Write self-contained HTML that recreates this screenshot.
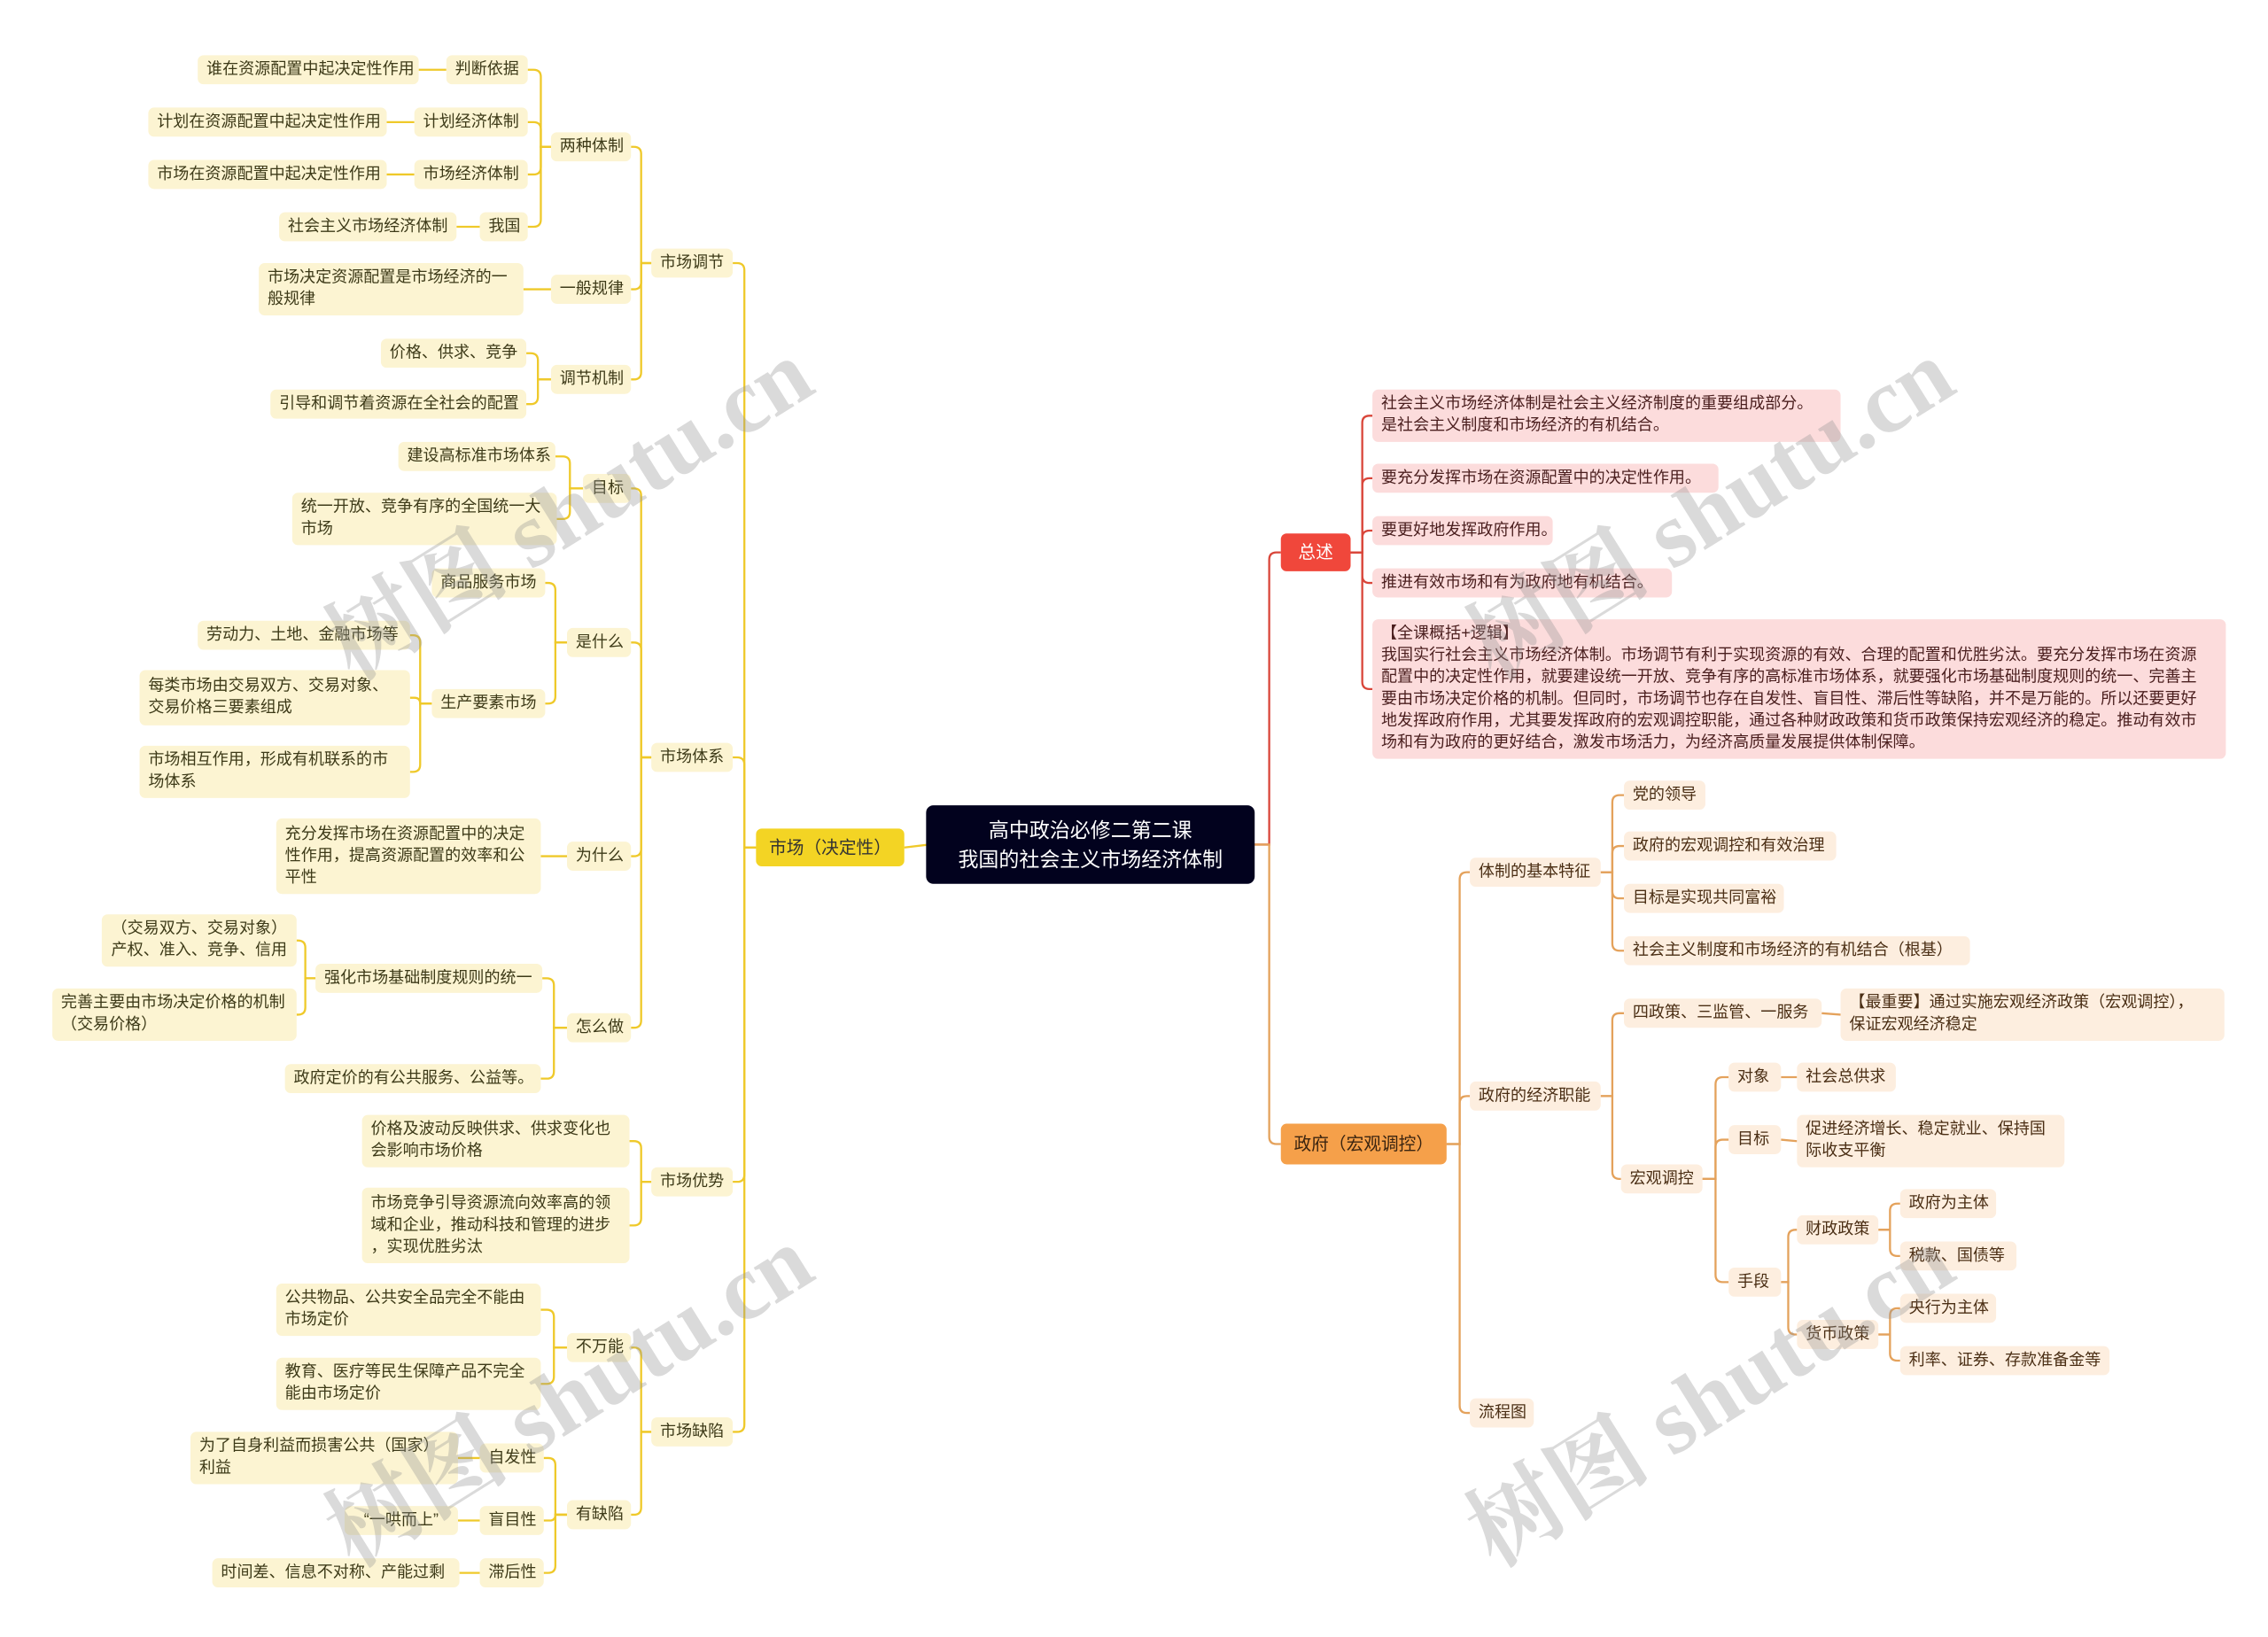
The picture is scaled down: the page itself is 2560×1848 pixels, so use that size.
<!DOCTYPE html>
<html><head><meta charset="utf-8">
<style>
html,body{margin:0;padding:0;background:#fff;}
body{width:2560px;height:1847px;overflow:hidden;position:relative;}
#w{position:absolute;left:0;top:0;width:1560px;height:1126px;transform:scale(1.64103);transform-origin:0 0;font-family:"Liberation Sans","Noto Sans CJK SC",sans-serif;}
.n{position:absolute;box-sizing:border-box;font-size:11px;line-height:15px;padding:0 6px;display:flex;align-items:center;border-radius:4px;white-space:nowrap;}
.y{background:#fcf4d2;color:#3d3a18;}
.p{background:#fcdcdc;color:#4a1e1e;}
.o{background:#fdeedf;color:#4a2e14;}
.wrap{white-space:normal;}
.wm{position:absolute;font-size:64px;color:rgba(150,150,150,0.35);font-family:"Liberation Serif","Noto Serif CJK SC",serif;transform:rotate(-32deg);white-space:nowrap;font-weight:bold;}
svg{position:absolute;left:0;top:0;}
</style></head><body><div id="w">
<svg id="s" width="1560" height="1126"></svg>

<div class="n y" style="left:136px;top:38px;width:152px;height:20px">谁在资源配置中起决定性作用</div>
<div class="n y" style="left:307px;top:38px;width:56px;height:20px">判断依据</div>
<div class="n y" style="left:102px;top:74px;width:164px;height:20px">计划在资源配置中起决定性作用</div>
<div class="n y" style="left:285px;top:74px;width:78px;height:20px">计划经济体制</div>
<div class="n y" style="left:102px;top:110px;width:164px;height:20px">市场在资源配置中起决定性作用</div>
<div class="n y" style="left:285px;top:110px;width:78px;height:20px">市场经济体制</div>
<div class="n y" style="left:192px;top:146px;width:122px;height:20px">社会主义市场经济体制</div>
<div class="n y" style="left:330px;top:146px;width:33px;height:20px">我国</div>
<div class="n y" style="left:379px;top:91px;width:55px;height:20px">两种体制</div>
<div class="n y wrap" style="left:178px;top:181px;width:182px;height:36px">市场决定资源配置是市场经济的一般规律</div>
<div class="n y" style="left:379px;top:189px;width:55px;height:20px">一般规律</div>
<div class="n y" style="left:262px;top:233px;width:100px;height:20px">价格、供求、竞争</div>
<div class="n y" style="left:186px;top:268px;width:176px;height:20px">引导和调节着资源在全社会的配置</div>
<div class="n y" style="left:379px;top:251px;width:55px;height:20px">调节机制</div>
<div class="n y" style="left:448px;top:171px;width:56px;height:20px">市场调节</div>
<div class="n y" style="left:274px;top:304px;width:108px;height:20px">建设高标准市场体系</div>
<div class="n y wrap" style="left:201px;top:339px;width:182px;height:36px">统一开放、竞争有序的全国统一大市场</div>
<div class="n y" style="left:401px;top:326px;width:33px;height:20px">目标</div>
<div class="n y" style="left:297px;top:391px;width:78px;height:20px">商品服务市场</div>
<div class="n y" style="left:136px;top:427px;width:146px;height:20px">劳动力、土地、金融市场等</div>
<div class="n y wrap" style="left:96px;top:461px;width:186px;height:38px">每类市场由交易双方、交易对象、交易价格三要素组成</div>
<div class="n y wrap" style="left:96px;top:513px;width:186px;height:36px">市场相互作用，形成有机联系的市场体系</div>
<div class="n y" style="left:297px;top:474px;width:78px;height:20px">生产要素市场</div>
<div class="n y" style="left:390px;top:432px;width:44px;height:20px">是什么</div>
<div class="n y" style="left:448px;top:511px;width:56px;height:20px">市场体系</div>
<div class="n y wrap" style="left:190px;top:563px;width:182px;height:52px">充分发挥市场在资源配置中的决定性作用，提高资源配置的效率和公平性</div>
<div class="n y" style="left:390px;top:579px;width:44px;height:20px">为什么</div>
<div class="n y wrap" style="left:70px;top:629px;width:134px;height:36px;justify-content:center;text-align:center">（交易双方、交易对象）产权、准入、竞争、信用</div>
<div class="n y wrap" style="left:36px;top:680px;width:168px;height:36px">完善主要由市场决定价格的机制（交易价格）</div>
<div class="n y" style="left:217px;top:663px;width:156px;height:20px">强化市场基础制度规则的统一</div>
<div class="n y" style="left:196px;top:732px;width:176px;height:20px">政府定价的有公共服务、公益等。</div>
<div class="n y" style="left:390px;top:697px;width:44px;height:20px">怎么做</div>
<div class="n y wrap" style="left:249px;top:767px;width:184px;height:36px">价格及波动反映供求、供求变化也会影响市场价格</div>
<div class="n y" style="left:249px;top:817px;width:184px;height:52px">市场竞争引导资源流向效率高的领<br>域和企业，推动科技和管理的进步<br>，实现优胜劣汰</div>
<div class="n y" style="left:448px;top:803px;width:56px;height:20px">市场优势</div>
<div class="n y wrap" style="left:190px;top:883px;width:182px;height:36px">公共物品、公共安全品完全不能由市场定价</div>
<div class="n y wrap" style="left:190px;top:934px;width:182px;height:36px">教育、医疗等民生保障产品不完全能由市场定价</div>
<div class="n y" style="left:390px;top:917px;width:44px;height:20px">不万能</div>
<div class="n y wrap" style="left:131px;top:985px;width:184px;height:36px">为了自身利益而损害公共（国家）利益</div>
<div class="n y" style="left:330px;top:993px;width:44px;height:20px">自发性</div>
<div class="n y" style="left:237px;top:1036px;width:78px;height:20px;justify-content:center">“一哄而上”</div>
<div class="n y" style="left:330px;top:1036px;width:44px;height:20px">盲目性</div>
<div class="n y" style="left:146px;top:1072px;width:170px;height:20px">时间差、信息不对称、产能过剩</div>
<div class="n y" style="left:330px;top:1072px;width:44px;height:20px">滞后性</div>
<div class="n y" style="left:390px;top:1032px;width:44px;height:20px">有缺陷</div>
<div class="n y" style="left:448px;top:975px;width:56px;height:20px">市场缺陷</div>
<div class="n" style="left:520px;top:570px;width:102px;height:26px;background:#f3d424;color:#333;justify-content:center;font-size:12px">市场（决定性）</div>
<div class="n" style="left:637px;top:554px;width:226px;height:54px;background:#02021e;color:#fff;justify-content:center;text-align:center;font-size:14px;line-height:20px;white-space:normal;border-radius:5px">高中政治必修二第二课<br>我国的社会主义市场经济体制</div>

<div class="n" style="left:881px;top:367px;width:48px;height:26px;background:#f0473b;color:#fff;justify-content:center;font-size:12px">总述</div>
<div class="n p wrap" style="left:944px;top:268px;width:322px;height:36px">社会主义市场经济体制是社会主义经济制度的重要组成部分。<br>是社会主义制度和市场经济的有机结合。</div>
<div class="n p" style="left:944px;top:319px;width:238px;height:20px">要充分发挥市场在资源配置中的决定性作用。</div>
<div class="n p" style="left:944px;top:355px;width:124px;height:20px">要更好地发挥政府作用。</div>
<div class="n p" style="left:944px;top:391px;width:206px;height:20px">推进有效市场和有为政府地有机结合。</div>
<div class="n p" style="left:944px;top:426px;width:587px;height:96px;align-items:flex-start;padding-top:3px;overflow:hidden">【全课概括+逻辑】<br>我国实行社会主义市场经济体制。市场调节有利于实现资源的有效、合理的配置和优胜劣汰。要充分发挥市场在资源<br>配置中的决定性作用，就要建设统一开放、竞争有序的高标准市场体系，就要强化市场基础制度规则的统一、完善主<br>要由市场决定价格的机制。但同时，市场调节也存在自发性、盲目性、滞后性等缺陷，并不是万能的。所以还要更好<br>地发挥政府作用，尤其要发挥政府的宏观调控职能，通过各种财政政策和货币政策保持宏观经济的稳定。推动有效市<br>场和有为政府的更好结合，激发市场活力，为经济高质量发展提供体制保障。</div>

<div class="n" style="left:881px;top:773px;width:114px;height:28px;background:#f5a04a;color:#3a2410;justify-content:center;font-size:12px">政府（宏观调控）</div>
<div class="n o" style="left:1011px;top:590px;width:90px;height:20px">体制的基本特征</div>
<div class="n o" style="left:1117px;top:537px;width:56px;height:20px">党的领导</div>
<div class="n o" style="left:1117px;top:572px;width:146px;height:20px">政府的宏观调控和有效治理</div>
<div class="n o" style="left:1117px;top:608px;width:110px;height:20px">目标是实现共同富裕</div>
<div class="n o" style="left:1117px;top:644px;width:238px;height:20px">社会主义制度和市场经济的有机结合（根基）</div>
<div class="n o" style="left:1011px;top:744px;width:90px;height:20px">政府的经济职能</div>
<div class="n o" style="left:1117px;top:687px;width:136px;height:20px">四政策、三监管、一服务</div>
<div class="n o" style="left:1266px;top:680px;width:264px;height:36px">【最重要】通过实施宏观经济政策（宏观调控），<br>保证宏观经济稳定</div>
<div class="n o" style="left:1115px;top:801px;width:56px;height:20px">宏观调控</div>
<div class="n o" style="left:1189px;top:731px;width:36px;height:20px">对象</div>
<div class="n o" style="left:1236px;top:731px;width:68px;height:20px">社会总供求</div>
<div class="n o" style="left:1189px;top:774px;width:36px;height:20px">目标</div>
<div class="n o wrap" style="left:1236px;top:767px;width:184px;height:36px">促进经济增长、稳定就业、保持国际收支平衡</div>
<div class="n o" style="left:1189px;top:872px;width:36px;height:20px">手段</div>
<div class="n o" style="left:1236px;top:836px;width:56px;height:20px">财政政策</div>
<div class="n o" style="left:1307px;top:818px;width:66px;height:20px">政府为主体</div>
<div class="n o" style="left:1307px;top:854px;width:80px;height:20px">税款、国债等</div>
<div class="n o" style="left:1236px;top:908px;width:56px;height:20px">货币政策</div>
<div class="n o" style="left:1307px;top:890px;width:66px;height:20px">央行为主体</div>
<div class="n o" style="left:1307px;top:926px;width:144px;height:20px">利率、证券、存款准备金等</div>
<div class="n o" style="left:1011px;top:962px;width:44px;height:20px">流程图</div>

<div class="wm" style="left:200px;top:300px">树图 shutu.cn</div>
<div class="wm" style="left:200px;top:910px">树图 shutu.cn</div>
<div class="wm" style="left:985px;top:300px">树图 shutu.cn</div>
<div class="wm" style="left:985px;top:910px">树图 shutu.cn</div>
</div>
<script>
var Y="#efc92a",R="#d9463a",O="#e4a25c";
var E=[];
function L(px,py,kids,c,t){kids.forEach(function(k){E.push([px,py,k[0],k[1],c,-1,t]);});}
function Rr(px,py,kids,c,t){kids.forEach(function(k){E.push([px,py,k[0],k[1],c,1,t]);});}
L(639,581,[[622,583]],Y,630);
L(520,583,[[504,181],[504,521],[504,813],[504,985]],Y,512);
L(448,181,[[434,101],[434,199],[434,261]],Y,441);
L(379,101,[[363,48],[363,84],[363,120],[363,156]],Y,372);
L(307,48,[[288,48]],Y,297);L(285,84,[[266,84]],Y,275);L(285,120,[[266,120]],Y,275);L(330,156,[[314,156]],Y,322);
L(379,199,[[360,199]],Y,370);
L(379,261,[[362,243],[362,278]],Y,370);
L(448,521,[[434,336],[434,442],[434,589],[434,707]],Y,441);
L(401,336,[[382,314],[383,357]],Y,392);
L(390,442,[[375,401],[375,484]],Y,382);
L(297,484,[[282,437],[282,480],[282,531]],Y,289);
L(390,589,[[372,589]],Y,381);
L(390,707,[[373,673],[372,742]],Y,381);
L(217,673,[[204,647],[204,698]],Y,210);
L(448,813,[[433,785],[433,843]],Y,441);
L(448,985,[[434,927],[434,1042]],Y,441);
L(390,927,[[372,901],[372,952]],Y,381);
L(390,1042,[[374,1003],[374,1046],[374,1082]],Y,382);
L(330,1003,[[315,1003]],Y,322);L(330,1046,[[315,1046]],Y,322);L(330,1082,[[316,1082]],Y,322);
Rr(863,581,[[881,380]],R,873);
Rr(863,581,[[881,787]],O,873);
Rr(929,380,[[944,286],[944,329],[944,365],[944,401],[944,474]],R,937);
Rr(995,787,[[1011,600],[1011,754],[1011,972]],O,1004);
Rr(1101,600,[[1117,547],[1117,582],[1117,618],[1117,654]],O,1109);
Rr(1101,754,[[1117,697],[1115,811]],O,1109);
Rr(1253,697,[[1266,698]],O,1260);
Rr(1171,811,[[1189,741],[1189,784],[1189,882]],O,1180);
Rr(1225,741,[[1236,741]],O,1230);Rr(1225,784,[[1236,785]],O,1230);
Rr(1225,882,[[1236,846],[1236,918]],O,1230);
Rr(1292,846,[[1307,828],[1307,864]],O,1300);
Rr(1292,918,[[1307,900],[1307,936]],O,1300);
var s=document.getElementById("s"),h="";
E.forEach(function(e){var px=e[0],py=e[1],cx=e[2],cy=e[3],c=e[4],d=e[5],t=e[6];
 var d2="M"+px+","+py+" H"+t;
 var dy=cy-py;
 if(Math.abs(dy)<3){d2="M"+px+","+py+" L"+cx+","+cy;}
 else{var r=Math.min(5,Math.abs(dy));var sg=dy>0?1:-1;
  d2+=" V"+(cy-sg*r)+" Q"+t+","+cy+" "+(t+d*r)+","+cy+" H"+cx;}
 h+='<path d="'+d2+'" fill="none" stroke="'+c+'" stroke-width="1.4"/>';});
s.innerHTML=h;
</script>
</body></html>
